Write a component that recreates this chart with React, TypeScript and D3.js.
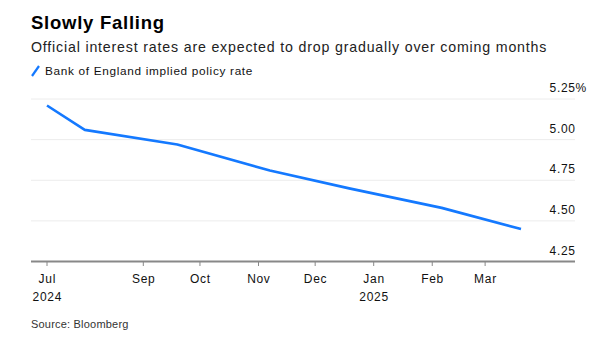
import React from "react";
import * as d3 from "d3";

const dates = ["2024-07-12", "2024-08-01", "2024-09-19", "2024-11-07", "2024-12-19", "2025-02-06", "2025-03-20"];
const rates = [5.21, 5.06, 4.97, 4.81, 4.70, 4.58, 4.45];
const xTickDates = ["2024-07-12", "2024-09-01", "2024-10-01", "2024-11-01", "2024-12-01", "2025-01-01", "2025-02-01", "2025-03-01"];
const xTickLabels = ["Jul", "Sep", "Oct", "Nov", "Dec", "Jan", "Feb", "Mar"];
const xTickYears = ["2024", "", "", "", "", "2025", "", ""];
const yTicks = [4.25, 4.5, 4.75, 5.0, 5.25];

const title = "Slowly Falling";
const subtitle = "Official interest rates are expected to drop gradually over coming months";
const legendLabel = "Bank of England implied policy rate";
const source = "Source: Bloomberg";

const W = 608;
const H = 347;
const plotLeft = 31;
const plotRight = 575;
const font = "'Liberation Sans', Arial, Helvetica, sans-serif";
const blue = "#1479ff";

export default function App() {
  const parse = d3.utcParse("%Y-%m-%d");
  const data = dates.map((d, i) => ({ date: parse(d) as Date, value: rates[i] }));

  const x = d3
    .scaleUtc()
    .domain([parse(dates[0]) as Date, parse(dates[dates.length - 1]) as Date])
    .range([47, 521]);
  const y = d3.scaleLinear().domain([4.25, 5.25]).range([261.5, 99]);

  const line = d3
    .line<{ date: Date; value: number }>()
    .x((d) => x(d.date))
    .y((d) => y(d.value));

  const axisY = y(4.25);

  return (
    <svg
      width={W}
      height={H}
      style={{ position: "absolute", left: 0, top: 0, background: "#fff" }}
      fontFamily={font}
    >
      <text x={31} y={29} fontSize={18.5} fontWeight="bold" fill="#000" letterSpacing={0.75}>
        {title}
      </text>
      <text x={31} y={52} fontSize={14.2} fill="#222" letterSpacing={0.82}>
        {subtitle}
      </text>
      <line x1={32} y1={76} x2={39} y2={66} stroke={blue} strokeWidth={2.2} />
      <text x={45} y={75} fontSize={11.8} fill="#111" letterSpacing={0.68}>
        {legendLabel}
      </text>

      {yTicks.map((t) =>
        t === 4.25 ? null : (
          <line key={"g" + t} x1={plotLeft} x2={plotRight} y1={y(t)} y2={y(t)} stroke="#ececec" strokeWidth={1} />
        )
      )}
      {yTicks.map((t, i) => (
        <g key={"yl" + t}>
          <text x={plotRight + 0.7} y={y(t) - 7} fontSize={12} fill="#111" textAnchor="end" letterSpacing={0.7}>
            {d3.format(".2f")(t)}
          </text>
          {i === yTicks.length - 1 ? (
            <text x={plotRight + 0.5} y={y(t) - 7} fontSize={12} fill="#111" letterSpacing={0.5}>
              %
            </text>
          ) : null}
        </g>
      ))}

      <path d={line(data) || ""} fill="none" stroke={blue} strokeWidth={2.6} strokeLinejoin="round" strokeLinecap="butt" />

      <line x1={plotLeft} x2={plotRight} y1={axisY} y2={axisY} stroke="#888" strokeWidth={2} />
      {xTickDates.map((d, i) => {
        const px = x(parse(d) as Date);
        return (
          <g key={d}>
            <line x1={px} x2={px} y1={axisY} y2={axisY + 4.5} stroke="#888" strokeWidth={1} />
            <text x={px + 0.35} y={283} fontSize={12} fill="#111" textAnchor="middle" letterSpacing={0.7}>
              {xTickLabels[i]}
            </text>
            {xTickYears[i] ? (
              <text x={px + 0.35} y={300.5} fontSize={12} fill="#111" textAnchor="middle" letterSpacing={0.7}>
                {xTickYears[i]}
              </text>
            ) : null}
          </g>
        );
      })}

      <text x={31} y={327.5} fontSize={11} fill="#333" letterSpacing={0.2}>
        {source}
      </text>
    </svg>
  );
}
